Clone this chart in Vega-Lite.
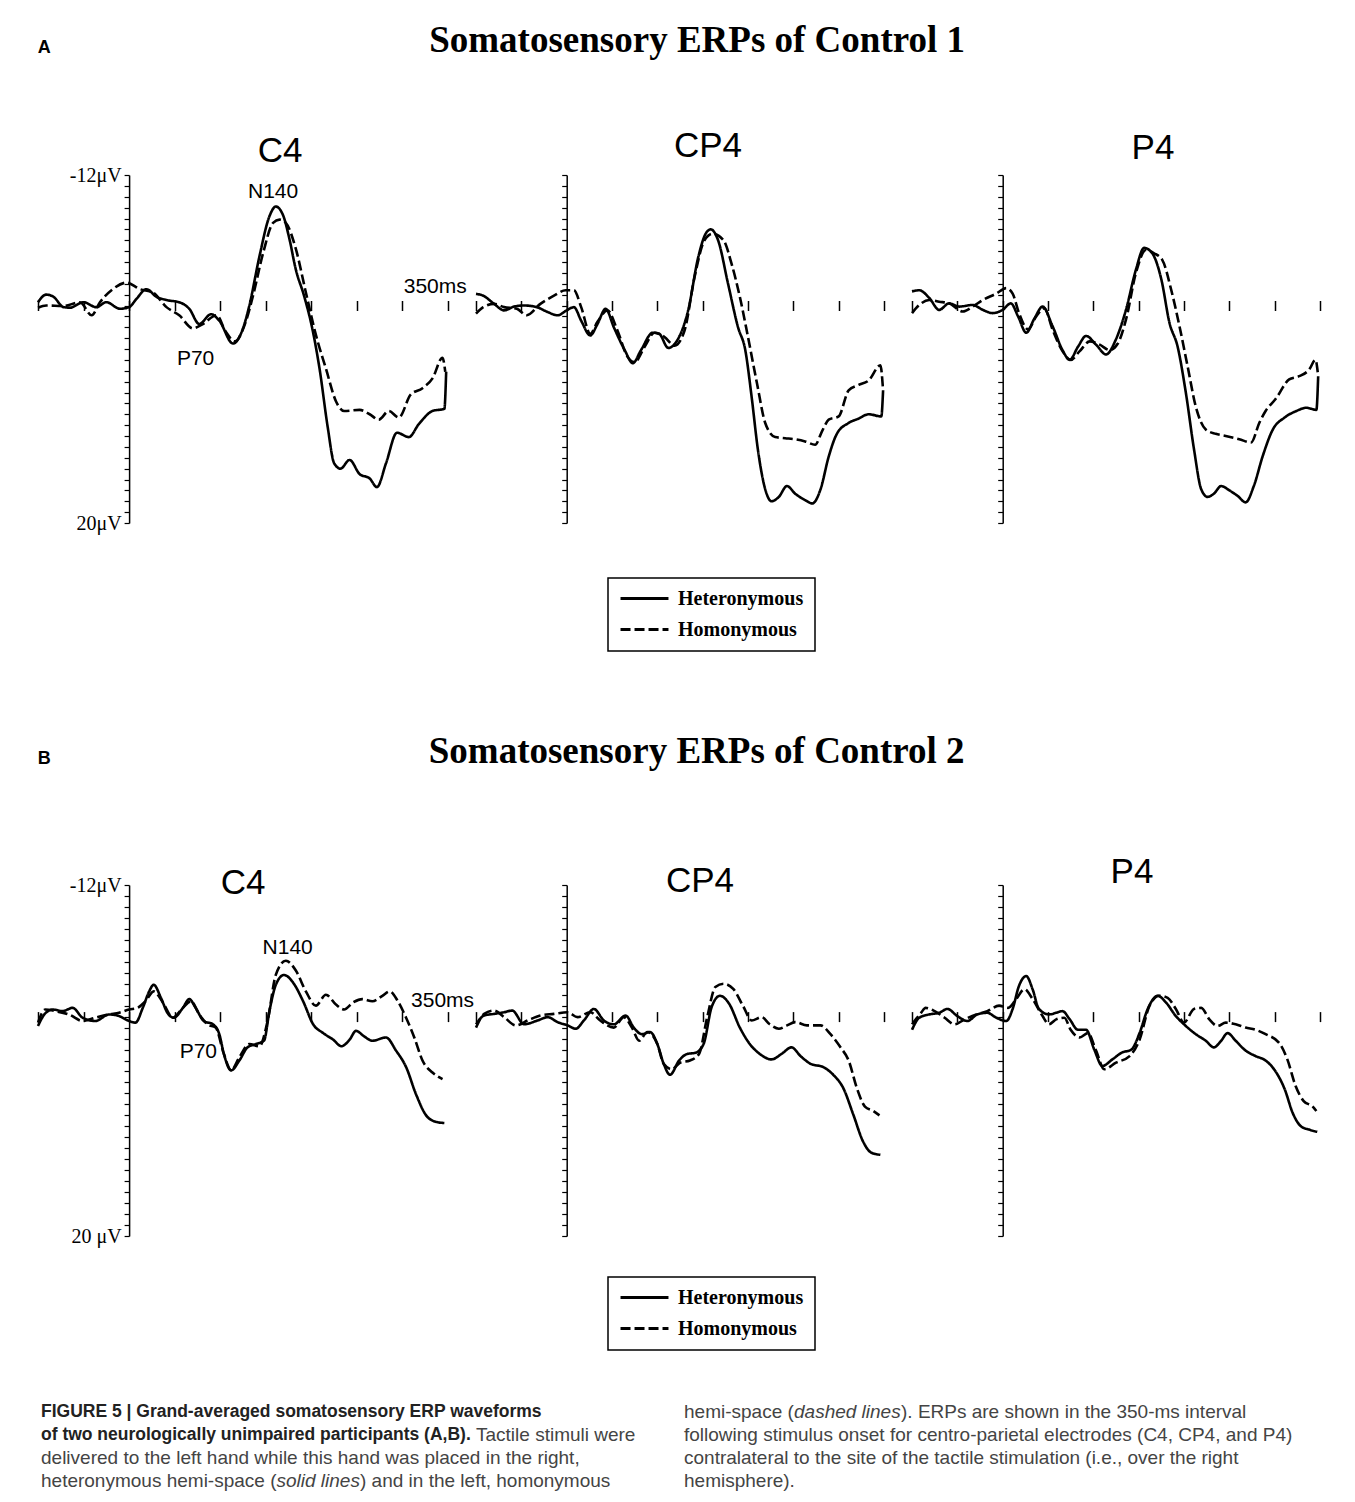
{
"$schema": "https://vega.github.io/schema/vega-lite/v6.json",
"background": "white",
"padding": {"left": 32, "top": 22, "right": 0, "bottom": 0},
"config": {
  "view": {"stroke": null},
  "font": "Liberation Sans",
  "title": {"font": "Liberation Sans", "fontSize": 35, "fontWeight": "normal", "color": "black", "anchor": "middle", "frame": "group"},
  "legend": {"strokeWidth": 1.5}
},
"datasets": {
"A_C4": [
{"cond":"Heteronymous","ms":-100,"uV":-0.3},{"cond":"Heteronymous","ms":-91,"uV":-1.0},{"cond":"Heteronymous","ms":-83,"uV":-0.8},{"cond":"Heteronymous","ms":-72,"uV":0.15},{"cond":"Heteronymous","ms":-65,"uV":0.2},{"cond":"Heteronymous","ms":-50,"uV":-0.3},{"cond":"Heteronymous","ms":-36,"uV":0.15},{"cond":"Heteronymous","ms":-25,"uV":-0.3},{"cond":"Heteronymous","ms":-10,"uV":0.3},{"cond":"Heteronymous","ms":0,"uV":0.15},{"cond":"Heteronymous","ms":8,"uV":-0.6},{"cond":"Heteronymous","ms":19,"uV":-1.5},{"cond":"Heteronymous","ms":30,"uV":-0.8},{"cond":"Heteronymous","ms":41,"uV":-0.5},{"cond":"Heteronymous","ms":55,"uV":-0.3},{"cond":"Heteronymous","ms":66,"uV":0.3},{"cond":"Heteronymous","ms":77,"uV":1.7},{"cond":"Heteronymous","ms":90,"uV":0.8},{"cond":"Heteronymous","ms":99,"uV":1.4},{"cond":"Heteronymous","ms":114,"uV":3.5},{"cond":"Heteronymous","ms":125,"uV":2.1},{"cond":"Heteronymous","ms":132,"uV":0},{"cond":"Heteronymous","ms":143,"uV":-4.5},{"cond":"Heteronymous","ms":154,"uV":-8.2},{"cond":"Heteronymous","ms":161,"uV":-9.1},{"cond":"Heteronymous","ms":169,"uV":-8.3},{"cond":"Heteronymous","ms":176,"uV":-6.1},{"cond":"Heteronymous","ms":183,"uV":-3.3},{"cond":"Heteronymous","ms":192,"uV":-0.9},{"cond":"Heteronymous","ms":201,"uV":2.1},{"cond":"Heteronymous","ms":209,"uV":5.8},{"cond":"Heteronymous","ms":218,"uV":11.2},{"cond":"Heteronymous","ms":225,"uV":14.5},{"cond":"Heteronymous","ms":232,"uV":15.0},{"cond":"Heteronymous","ms":242,"uV":14.2},{"cond":"Heteronymous","ms":253,"uV":15.5},{"cond":"Heteronymous","ms":264,"uV":15.9},{"cond":"Heteronymous","ms":272,"uV":16.7},{"cond":"Heteronymous","ms":282,"uV":14.5},{"cond":"Heteronymous","ms":294,"uV":11.7},{"cond":"Heteronymous","ms":307,"uV":12.1},{"cond":"Heteronymous","ms":318,"uV":10.9},{"cond":"Heteronymous","ms":333,"uV":9.7},{"cond":"Heteronymous","ms":346,"uV":9.5},{"cond":"Heteronymous","ms":348,"uV":6.1},
{"cond":"Homonymous","ms":-100,"uV":0.2},{"cond":"Homonymous","ms":-91,"uV":0},{"cond":"Homonymous","ms":-72,"uV":0.05},{"cond":"Homonymous","ms":-54,"uV":-0.3},{"cond":"Homonymous","ms":-41,"uV":0.9},{"cond":"Homonymous","ms":-32,"uV":-0.3},{"cond":"Homonymous","ms":-18,"uV":-1.5},{"cond":"Homonymous","ms":-3,"uV":-2.1},{"cond":"Homonymous","ms":12,"uV":-1.5},{"cond":"Homonymous","ms":26,"uV":-1.2},{"cond":"Homonymous","ms":41,"uV":0.15},{"cond":"Homonymous","ms":55,"uV":0.9},{"cond":"Homonymous","ms":70,"uV":2.1},{"cond":"Homonymous","ms":81,"uV":1.7},{"cond":"Homonymous","ms":96,"uV":0.9},{"cond":"Homonymous","ms":106,"uV":2.4},{"cond":"Homonymous","ms":116,"uV":3.3},{"cond":"Homonymous","ms":128,"uV":1.5},{"cond":"Homonymous","ms":136,"uV":-0.9},{"cond":"Homonymous","ms":147,"uV":-4.8},{"cond":"Homonymous","ms":158,"uV":-7.6},{"cond":"Homonymous","ms":165,"uV":-7.9},{"cond":"Homonymous","ms":172,"uV":-7.6},{"cond":"Homonymous","ms":183,"uV":-5.2},{"cond":"Homonymous","ms":194,"uV":-1.2},{"cond":"Homonymous","ms":205,"uV":2.7},{"cond":"Homonymous","ms":216,"uV":5.8},{"cond":"Homonymous","ms":227,"uV":8.8},{"cond":"Homonymous","ms":236,"uV":9.7},{"cond":"Homonymous","ms":253,"uV":9.6},{"cond":"Homonymous","ms":264,"uV":10.0},{"cond":"Homonymous","ms":274,"uV":10.5},{"cond":"Homonymous","ms":285,"uV":9.7},{"cond":"Homonymous","ms":296,"uV":10.3},{"cond":"Homonymous","ms":309,"uV":8.2},{"cond":"Homonymous","ms":322,"uV":7.6},{"cond":"Homonymous","ms":333,"uV":6.7},{"cond":"Homonymous","ms":344,"uV":4.8},{"cond":"Homonymous","ms":347,"uV":6.1}
],
"A_CP4": [
{"cond":"Heteronymous","ms":-100,"uV":-1.07},{"cond":"Heteronymous","ms":-92,"uV":-0.9},{"cond":"Heteronymous","ms":-80,"uV":-0.15},{"cond":"Heteronymous","ms":-69,"uV":0.45},{"cond":"Heteronymous","ms":-58,"uV":0.1},{"cond":"Heteronymous","ms":-47,"uV":0},{"cond":"Heteronymous","ms":-33,"uV":0.15},{"cond":"Heteronymous","ms":-21,"uV":0.6},{"cond":"Heteronymous","ms":-10,"uV":0.9},{"cond":"Heteronymous","ms":0,"uV":0.45},{"cond":"Heteronymous","ms":8,"uV":0.15},{"cond":"Heteronymous","ms":16,"uV":1.4},{"cond":"Heteronymous","ms":26,"uV":2.75},{"cond":"Heteronymous","ms":34,"uV":1.7},{"cond":"Heteronymous","ms":43,"uV":0.3},{"cond":"Heteronymous","ms":52,"uV":2.0},{"cond":"Heteronymous","ms":64,"uV":4.1},{"cond":"Heteronymous","ms":73,"uV":5.3},{"cond":"Heteronymous","ms":82,"uV":4.1},{"cond":"Heteronymous","ms":95,"uV":2.5},{"cond":"Heteronymous","ms":102,"uV":2.6},{"cond":"Heteronymous","ms":112,"uV":3.9},{"cond":"Heteronymous","ms":123,"uV":3.05},{"cond":"Heteronymous","ms":134,"uV":0.45},{"cond":"Heteronymous","ms":145,"uV":-4.4},{"cond":"Heteronymous","ms":154,"uV":-6.7},{"cond":"Heteronymous","ms":159,"uV":-7.0},{"cond":"Heteronymous","ms":167,"uV":-6.0},{"cond":"Heteronymous","ms":178,"uV":-2.0},{"cond":"Heteronymous","ms":189,"uV":2.0},{"cond":"Heteronymous","ms":197,"uV":4.1},{"cond":"Heteronymous","ms":204,"uV":8.4},{"cond":"Heteronymous","ms":211,"uV":13.3},{"cond":"Heteronymous","ms":219,"uV":16.9},{"cond":"Heteronymous","ms":226,"uV":18.0},{"cond":"Heteronymous","ms":234,"uV":17.6},{"cond":"Heteronymous","ms":243,"uV":16.6},{"cond":"Heteronymous","ms":252,"uV":17.3},{"cond":"Heteronymous","ms":263,"uV":17.9},{"cond":"Heteronymous","ms":271,"uV":18.2},{"cond":"Heteronymous","ms":280,"uV":16.9},{"cond":"Heteronymous","ms":289,"uV":13.9},{"cond":"Heteronymous","ms":298,"uV":11.8},{"cond":"Heteronymous","ms":311,"uV":10.8},{"cond":"Heteronymous","ms":322,"uV":10.4},{"cond":"Heteronymous","ms":333,"uV":10.0},{"cond":"Heteronymous","ms":347,"uV":10.2},{"cond":"Heteronymous","ms":349,"uV":7.8},
{"cond":"Homonymous","ms":-100,"uV":0.75},{"cond":"Homonymous","ms":-92,"uV":0.15},{"cond":"Homonymous","ms":-80,"uV":-0.15},{"cond":"Homonymous","ms":-69,"uV":0.15},{"cond":"Homonymous","ms":-55,"uV":0.3},{"cond":"Homonymous","ms":-44,"uV":0.9},{"cond":"Homonymous","ms":-29,"uV":-0.15},{"cond":"Homonymous","ms":-14,"uV":-0.9},{"cond":"Homonymous","ms":-1,"uV":-1.4},{"cond":"Homonymous","ms":8,"uV":-1.4},{"cond":"Homonymous","ms":16,"uV":0.15},{"cond":"Homonymous","ms":26,"uV":2.6},{"cond":"Homonymous","ms":34,"uV":1.5},{"cond":"Homonymous","ms":45,"uV":0.45},{"cond":"Homonymous","ms":56,"uV":2.3},{"cond":"Homonymous","ms":67,"uV":4.7},{"cond":"Homonymous","ms":75,"uV":5.2},{"cond":"Homonymous","ms":86,"uV":3.8},{"cond":"Homonymous","ms":97,"uV":2.5},{"cond":"Homonymous","ms":108,"uV":2.9},{"cond":"Homonymous","ms":119,"uV":3.7},{"cond":"Homonymous","ms":130,"uV":2.3},{"cond":"Homonymous","ms":141,"uV":-2.6},{"cond":"Homonymous","ms":152,"uV":-6.0},{"cond":"Homonymous","ms":161,"uV":-6.6},{"cond":"Homonymous","ms":173,"uV":-6.0},{"cond":"Homonymous","ms":182,"uV":-3.8},{"cond":"Homonymous","ms":191,"uV":-0.8},{"cond":"Homonymous","ms":200,"uV":2.9},{"cond":"Homonymous","ms":210,"uV":7.2},{"cond":"Homonymous","ms":219,"uV":10.8},{"cond":"Homonymous","ms":230,"uV":12.1},{"cond":"Homonymous","ms":241,"uV":12.2},{"cond":"Homonymous","ms":252,"uV":12.3},{"cond":"Homonymous","ms":263,"uV":12.5},{"cond":"Homonymous","ms":274,"uV":12.8},{"cond":"Homonymous","ms":282,"uV":11.5},{"cond":"Homonymous","ms":289,"uV":10.5},{"cond":"Homonymous","ms":300,"uV":10.2},{"cond":"Homonymous","ms":311,"uV":7.8},{"cond":"Homonymous","ms":322,"uV":7.3},{"cond":"Homonymous","ms":333,"uV":6.9},{"cond":"Homonymous","ms":346,"uV":5.5},{"cond":"Homonymous","ms":349,"uV":7.8}
],
"A_P4": [
{"cond":"Heteronymous","ms":-100,"uV":-1.3},{"cond":"Heteronymous","ms":-92,"uV":-1.4},{"cond":"Heteronymous","ms":-81,"uV":-0.7},{"cond":"Heteronymous","ms":-70,"uV":0.4},{"cond":"Heteronymous","ms":-59,"uV":-0.2},{"cond":"Heteronymous","ms":-48,"uV":0.1},{"cond":"Heteronymous","ms":-33,"uV":-0.05},{"cond":"Heteronymous","ms":-22,"uV":0.4},{"cond":"Heteronymous","ms":-11,"uV":0.7},{"cond":"Heteronymous","ms":0,"uV":0.4},{"cond":"Heteronymous","ms":9,"uV":-0.2},{"cond":"Heteronymous","ms":17,"uV":1.0},{"cond":"Heteronymous","ms":26,"uV":2.5},{"cond":"Heteronymous","ms":35,"uV":1.2},{"cond":"Heteronymous","ms":44,"uV":0.1},{"cond":"Heteronymous","ms":55,"uV":1.9},{"cond":"Heteronymous","ms":66,"uV":4.1},{"cond":"Heteronymous","ms":74,"uV":5.0},{"cond":"Heteronymous","ms":83,"uV":3.8},{"cond":"Heteronymous","ms":92,"uV":2.8},{"cond":"Heteronymous","ms":103,"uV":3.6},{"cond":"Heteronymous","ms":114,"uV":4.5},{"cond":"Heteronymous","ms":125,"uV":3.1},{"cond":"Heteronymous","ms":136,"uV":0.4},{"cond":"Heteronymous","ms":147,"uV":-3.3},{"cond":"Heteronymous","ms":156,"uV":-5.3},{"cond":"Heteronymous","ms":165,"uV":-4.8},{"cond":"Heteronymous","ms":175,"uV":-2.4},{"cond":"Heteronymous","ms":184,"uV":1.6},{"cond":"Heteronymous","ms":193,"uV":3.8},{"cond":"Heteronymous","ms":202,"uV":8.0},{"cond":"Heteronymous","ms":211,"uV":13.2},{"cond":"Heteronymous","ms":219,"uV":16.9},{"cond":"Heteronymous","ms":226,"uV":17.6},{"cond":"Heteronymous","ms":233,"uV":17.3},{"cond":"Heteronymous","ms":241,"uV":16.6},{"cond":"Heteronymous","ms":250,"uV":17.0},{"cond":"Heteronymous","ms":259,"uV":17.5},{"cond":"Heteronymous","ms":268,"uV":18.1},{"cond":"Heteronymous","ms":277,"uV":16.6},{"cond":"Heteronymous","ms":287,"uV":13.8},{"cond":"Heteronymous","ms":298,"uV":11.4},{"cond":"Heteronymous","ms":311,"uV":10.3},{"cond":"Heteronymous","ms":324,"uV":9.7},{"cond":"Heteronymous","ms":335,"uV":9.4},{"cond":"Heteronymous","ms":346,"uV":9.6},{"cond":"Heteronymous","ms":348,"uV":6.5},
{"cond":"Homonymous","ms":-100,"uV":0.7},{"cond":"Homonymous","ms":-92,"uV":-0.05},{"cond":"Homonymous","ms":-81,"uV":-0.5},{"cond":"Homonymous","ms":-70,"uV":-0.35},{"cond":"Homonymous","ms":-59,"uV":-0.2},{"cond":"Homonymous","ms":-44,"uV":0.55},{"cond":"Homonymous","ms":-33,"uV":0.1},{"cond":"Homonymous","ms":-22,"uV":-0.5},{"cond":"Homonymous","ms":-7,"uV":-1.1},{"cond":"Homonymous","ms":4,"uV":-1.6},{"cond":"Homonymous","ms":11,"uV":-1.1},{"cond":"Homonymous","ms":18,"uV":0.7},{"cond":"Homonymous","ms":28,"uV":2.2},{"cond":"Homonymous","ms":37,"uV":1.0},{"cond":"Homonymous","ms":46,"uV":0.25},{"cond":"Homonymous","ms":55,"uV":2.2},{"cond":"Homonymous","ms":66,"uV":4.2},{"cond":"Homonymous","ms":75,"uV":5.0},{"cond":"Homonymous","ms":85,"uV":4.2},{"cond":"Homonymous","ms":96,"uV":3.3},{"cond":"Homonymous","ms":107,"uV":3.6},{"cond":"Homonymous","ms":118,"uV":4.1},{"cond":"Homonymous","ms":127,"uV":3.5},{"cond":"Homonymous","ms":136,"uV":1.3},{"cond":"Homonymous","ms":147,"uV":-3.0},{"cond":"Homonymous","ms":158,"uV":-5.1},{"cond":"Homonymous","ms":167,"uV":-4.8},{"cond":"Homonymous","ms":176,"uV":-4.2},{"cond":"Homonymous","ms":186,"uV":-1.4},{"cond":"Homonymous","ms":195,"uV":1.9},{"cond":"Homonymous","ms":204,"uV":5.6},{"cond":"Homonymous","ms":213,"uV":9.3},{"cond":"Homonymous","ms":224,"uV":11.4},{"cond":"Homonymous","ms":235,"uV":11.8},{"cond":"Homonymous","ms":246,"uV":12.0},{"cond":"Homonymous","ms":261,"uV":12.3},{"cond":"Homonymous","ms":274,"uV":12.6},{"cond":"Homonymous","ms":283,"uV":10.8},{"cond":"Homonymous","ms":290,"uV":9.7},{"cond":"Homonymous","ms":301,"uV":8.6},{"cond":"Homonymous","ms":316,"uV":6.8},{"cond":"Homonymous","ms":327,"uV":6.5},{"cond":"Homonymous","ms":338,"uV":5.9},{"cond":"Homonymous","ms":345,"uV":5.0},{"cond":"Homonymous","ms":348,"uV":6.5}
],
"B_C4": [
{"cond":"Heteronymous","ms":-100,"uV":0.85},{"cond":"Heteronymous","ms":-93,"uV":-0.2},{"cond":"Heteronymous","ms":-84,"uV":-0.65},{"cond":"Heteronymous","ms":-73,"uV":-0.5},{"cond":"Heteronymous","ms":-62,"uV":-0.8},{"cond":"Heteronymous","ms":-51,"uV":0.1},{"cond":"Heteronymous","ms":-37,"uV":0.4},{"cond":"Heteronymous","ms":-22,"uV":-0.2},{"cond":"Heteronymous","ms":-11,"uV":-0.05},{"cond":"Heteronymous","ms":0,"uV":0.4},{"cond":"Heteronymous","ms":7,"uV":0.55},{"cond":"Heteronymous","ms":15,"uV":-0.8},{"cond":"Heteronymous","ms":22,"uV":-2.3},{"cond":"Heteronymous","ms":27,"uV":-2.9},{"cond":"Heteronymous","ms":35,"uV":-1.7},{"cond":"Heteronymous","ms":42,"uV":-0.35},{"cond":"Heteronymous","ms":49,"uV":0.1},{"cond":"Heteronymous","ms":59,"uV":-0.8},{"cond":"Heteronymous","ms":66,"uV":-1.6},{"cond":"Heteronymous","ms":73,"uV":-0.8},{"cond":"Heteronymous","ms":82,"uV":0.4},{"cond":"Heteronymous","ms":92,"uV":0.7},{"cond":"Heteronymous","ms":99,"uV":1.6},{"cond":"Heteronymous","ms":104,"uV":3.4},{"cond":"Heteronymous","ms":112,"uV":4.9},{"cond":"Heteronymous","ms":121,"uV":4.0},{"cond":"Heteronymous","ms":130,"uV":2.8},{"cond":"Heteronymous","ms":139,"uV":2.5},{"cond":"Heteronymous","ms":148,"uV":2.2},{"cond":"Heteronymous","ms":154,"uV":-0.5},{"cond":"Heteronymous","ms":161,"uV":-2.9},{"cond":"Heteronymous","ms":170,"uV":-3.8},{"cond":"Heteronymous","ms":180,"uV":-3.1},{"cond":"Heteronymous","ms":191,"uV":-1.4},{"cond":"Heteronymous","ms":202,"uV":0.7},{"cond":"Heteronymous","ms":213,"uV":1.5},{"cond":"Heteronymous","ms":224,"uV":2.1},{"cond":"Heteronymous","ms":233,"uV":2.7},{"cond":"Heteronymous","ms":242,"uV":2.1},{"cond":"Heteronymous","ms":249,"uV":1.3},{"cond":"Heteronymous","ms":258,"uV":1.8},{"cond":"Heteronymous","ms":267,"uV":2.2},{"cond":"Heteronymous","ms":282,"uV":1.9},{"cond":"Heteronymous","ms":293,"uV":3.1},{"cond":"Heteronymous","ms":304,"uV":4.6},{"cond":"Heteronymous","ms":315,"uV":7.1},{"cond":"Heteronymous","ms":326,"uV":9.0},{"cond":"Heteronymous","ms":337,"uV":9.6},{"cond":"Heteronymous","ms":346,"uV":9.7},
{"cond":"Homonymous","ms":-100,"uV":0.55},{"cond":"Homonymous","ms":-92,"uV":-0.65},{"cond":"Homonymous","ms":-81,"uV":-0.5},{"cond":"Homonymous","ms":-66,"uV":-0.2},{"cond":"Homonymous","ms":-51,"uV":0.4},{"cond":"Homonymous","ms":-37,"uV":0.1},{"cond":"Homonymous","ms":-22,"uV":-0.2},{"cond":"Homonymous","ms":-11,"uV":-0.35},{"cond":"Homonymous","ms":0,"uV":-0.65},{"cond":"Homonymous","ms":9,"uV":-0.8},{"cond":"Homonymous","ms":18,"uV":-1.4},{"cond":"Homonymous","ms":27,"uV":-2.3},{"cond":"Homonymous","ms":37,"uV":-1.3},{"cond":"Homonymous","ms":48,"uV":0.1},{"cond":"Homonymous","ms":59,"uV":-0.8},{"cond":"Homonymous","ms":68,"uV":-1.4},{"cond":"Homonymous","ms":77,"uV":-0.2},{"cond":"Homonymous","ms":86,"uV":0.7},{"cond":"Homonymous","ms":95,"uV":1.0},{"cond":"Homonymous","ms":104,"uV":3.4},{"cond":"Homonymous","ms":112,"uV":4.9},{"cond":"Homonymous","ms":121,"uV":3.7},{"cond":"Homonymous","ms":132,"uV":2.5},{"cond":"Homonymous","ms":143,"uV":2.7},{"cond":"Homonymous","ms":152,"uV":0.4},{"cond":"Homonymous","ms":161,"uV":-3.8},{"cond":"Homonymous","ms":172,"uV":-5.1},{"cond":"Homonymous","ms":183,"uV":-4.2},{"cond":"Homonymous","ms":194,"uV":-2.3},{"cond":"Homonymous","ms":205,"uV":-1.0},{"cond":"Homonymous","ms":216,"uV":-2.0},{"cond":"Homonymous","ms":227,"uV":-1.1},{"cond":"Homonymous","ms":236,"uV":-0.65},{"cond":"Homonymous","ms":246,"uV":-1.3},{"cond":"Homonymous","ms":256,"uV":-1.6},{"cond":"Homonymous","ms":267,"uV":-1.4},{"cond":"Homonymous","ms":278,"uV":-1.9},{"cond":"Homonymous","ms":286,"uV":-2.3},{"cond":"Homonymous","ms":295,"uV":-1.4},{"cond":"Homonymous","ms":304,"uV":0.1},{"cond":"Homonymous","ms":313,"uV":1.9},{"cond":"Homonymous","ms":322,"uV":4.0},{"cond":"Homonymous","ms":333,"uV":5.1},{"cond":"Homonymous","ms":344,"uV":5.7}
],
"B_CP4": [
{"cond":"Heteronymous","ms":-100,"uV":0.7},{"cond":"Heteronymous","ms":-91,"uV":-0.1},{"cond":"Heteronymous","ms":-80,"uV":-0.25},{"cond":"Heteronymous","ms":-69,"uV":-0.4},{"cond":"Heteronymous","ms":-60,"uV":-0.55},{"cond":"Heteronymous","ms":-47,"uV":0.7},{"cond":"Heteronymous","ms":-32,"uV":0.35},{"cond":"Heteronymous","ms":-21,"uV":0.05},{"cond":"Heteronymous","ms":-10,"uV":0.5},{"cond":"Heteronymous","ms":1,"uV":0.8},{"cond":"Heteronymous","ms":10,"uV":1.1},{"cond":"Heteronymous","ms":19,"uV":0.35},{"cond":"Heteronymous","ms":30,"uV":-0.7},{"cond":"Heteronymous","ms":41,"uV":0.35},{"cond":"Heteronymous","ms":52,"uV":0.7},{"cond":"Heteronymous","ms":65,"uV":-0.1},{"cond":"Heteronymous","ms":74,"uV":1.0},{"cond":"Heteronymous","ms":83,"uV":1.6},{"cond":"Heteronymous","ms":92,"uV":1.4},{"cond":"Heteronymous","ms":100,"uV":2.5},{"cond":"Heteronymous","ms":107,"uV":4.3},{"cond":"Heteronymous","ms":114,"uV":5.3},{"cond":"Heteronymous","ms":124,"uV":4.0},{"cond":"Heteronymous","ms":133,"uV":3.4},{"cond":"Heteronymous","ms":142,"uV":3.3},{"cond":"Heteronymous","ms":151,"uV":2.5},{"cond":"Heteronymous","ms":160,"uV":-0.9},{"cond":"Heteronymous","ms":169,"uV":-1.9},{"cond":"Heteronymous","ms":179,"uV":-1.2},{"cond":"Heteronymous","ms":191,"uV":1.0},{"cond":"Heteronymous","ms":202,"uV":2.5},{"cond":"Heteronymous","ms":213,"uV":3.4},{"cond":"Heteronymous","ms":226,"uV":3.9},{"cond":"Heteronymous","ms":237,"uV":3.4},{"cond":"Heteronymous","ms":248,"uV":2.8},{"cond":"Heteronymous","ms":258,"uV":3.6},{"cond":"Heteronymous","ms":269,"uV":4.3},{"cond":"Heteronymous","ms":283,"uV":4.6},{"cond":"Heteronymous","ms":294,"uV":5.3},{"cond":"Heteronymous","ms":305,"uV":6.5},{"cond":"Heteronymous","ms":316,"uV":8.9},{"cond":"Heteronymous","ms":327,"uV":11.4},{"cond":"Heteronymous","ms":336,"uV":12.4},{"cond":"Heteronymous","ms":346,"uV":12.6},
{"cond":"Homonymous","ms":-100,"uV":1.0},{"cond":"Homonymous","ms":-91,"uV":-0.25},{"cond":"Homonymous","ms":-80,"uV":-0.55},{"cond":"Homonymous","ms":-69,"uV":0.05},{"cond":"Homonymous","ms":-56,"uV":0.8},{"cond":"Homonymous","ms":-43,"uV":0.35},{"cond":"Homonymous","ms":-29,"uV":-0.1},{"cond":"Homonymous","ms":-14,"uV":-0.25},{"cond":"Homonymous","ms":1,"uV":-0.4},{"cond":"Homonymous","ms":12,"uV":0.05},{"cond":"Homonymous","ms":26,"uV":-0.4},{"cond":"Homonymous","ms":37,"uV":0.35},{"cond":"Homonymous","ms":52,"uV":1.0},{"cond":"Homonymous","ms":63,"uV":0.05},{"cond":"Homonymous","ms":72,"uV":1.0},{"cond":"Homonymous","ms":80,"uV":2.2},{"cond":"Homonymous","ms":89,"uV":1.4},{"cond":"Homonymous","ms":100,"uV":2.5},{"cond":"Homonymous","ms":107,"uV":4.3},{"cond":"Homonymous","ms":116,"uV":4.8},{"cond":"Homonymous","ms":125,"uV":4.2},{"cond":"Homonymous","ms":136,"uV":4.0},{"cond":"Homonymous","ms":146,"uV":3.4},{"cond":"Homonymous","ms":155,"uV":0.05},{"cond":"Homonymous","ms":164,"uV":-2.7},{"cond":"Homonymous","ms":173,"uV":-3.0},{"cond":"Homonymous","ms":184,"uV":-2.5},{"cond":"Homonymous","ms":195,"uV":-0.9},{"cond":"Homonymous","ms":204,"uV":0.35},{"cond":"Homonymous","ms":215,"uV":0.05},{"cond":"Homonymous","ms":224,"uV":0.7},{"cond":"Homonymous","ms":234,"uV":1.1},{"cond":"Homonymous","ms":243,"uV":0.8},{"cond":"Homonymous","ms":252,"uV":0.5},{"cond":"Homonymous","ms":265,"uV":0.8},{"cond":"Homonymous","ms":280,"uV":0.8},{"cond":"Homonymous","ms":291,"uV":1.6},{"cond":"Homonymous","ms":302,"uV":2.8},{"cond":"Homonymous","ms":311,"uV":4.0},{"cond":"Homonymous","ms":320,"uV":6.5},{"cond":"Homonymous","ms":329,"uV":8.2},{"cond":"Homonymous","ms":338,"uV":8.6},{"cond":"Homonymous","ms":345,"uV":9.0}
],
"B_P4": [
{"cond":"Heteronymous","ms":-100,"uV":1.2},{"cond":"Heteronymous","ms":-92,"uV":0.1},{"cond":"Heteronymous","ms":-81,"uV":-0.2},{"cond":"Heteronymous","ms":-70,"uV":-0.35},{"cond":"Heteronymous","ms":-61,"uV":-0.7},{"cond":"Heteronymous","ms":-50,"uV":-0.05},{"cond":"Heteronymous","ms":-39,"uV":0.4},{"cond":"Heteronymous","ms":-28,"uV":-0.2},{"cond":"Heteronymous","ms":-17,"uV":-0.35},{"cond":"Heteronymous","ms":-7,"uV":0.1},{"cond":"Heteronymous","ms":4,"uV":0.4},{"cond":"Heteronymous","ms":11,"uV":-0.7},{"cond":"Heteronymous","ms":18,"uV":-2.8},{"cond":"Heteronymous","ms":26,"uV":-3.7},{"cond":"Heteronymous","ms":33,"uV":-2.5},{"cond":"Heteronymous","ms":40,"uV":-0.7},{"cond":"Heteronymous","ms":51,"uV":-0.2},{"cond":"Heteronymous","ms":59,"uV":-0.35},{"cond":"Heteronymous","ms":66,"uV":-0.5},{"cond":"Heteronymous","ms":74,"uV":0.25},{"cond":"Heteronymous","ms":83,"uV":1.2},{"cond":"Heteronymous","ms":92,"uV":1.2},{"cond":"Heteronymous","ms":101,"uV":3.0},{"cond":"Heteronymous","ms":110,"uV":4.5},{"cond":"Heteronymous","ms":121,"uV":3.9},{"cond":"Heteronymous","ms":131,"uV":3.3},{"cond":"Heteronymous","ms":142,"uV":3.0},{"cond":"Heteronymous","ms":151,"uV":1.5},{"cond":"Heteronymous","ms":160,"uV":-0.7},{"cond":"Heteronymous","ms":171,"uV":-1.9},{"cond":"Heteronymous","ms":180,"uV":-1.3},{"cond":"Heteronymous","ms":191,"uV":-0.05},{"cond":"Heteronymous","ms":202,"uV":0.85},{"cond":"Heteronymous","ms":213,"uV":1.6},{"cond":"Heteronymous","ms":224,"uV":2.2},{"cond":"Heteronymous","ms":233,"uV":2.8},{"cond":"Heteronymous","ms":241,"uV":2.2},{"cond":"Heteronymous","ms":248,"uV":1.5},{"cond":"Heteronymous","ms":257,"uV":2.2},{"cond":"Heteronymous","ms":268,"uV":3.1},{"cond":"Heteronymous","ms":279,"uV":3.6},{"cond":"Heteronymous","ms":290,"uV":4.0},{"cond":"Heteronymous","ms":301,"uV":5.0},{"cond":"Heteronymous","ms":311,"uV":6.6},{"cond":"Heteronymous","ms":320,"uV":8.8},{"cond":"Heteronymous","ms":329,"uV":10.0},{"cond":"Heteronymous","ms":338,"uV":10.3},{"cond":"Heteronymous","ms":347,"uV":10.5},
{"cond":"Homonymous","ms":-100,"uV":0.7},{"cond":"Homonymous","ms":-90,"uV":-0.35},{"cond":"Homonymous","ms":-85,"uV":-0.8},{"cond":"Homonymous","ms":-75,"uV":-0.5},{"cond":"Homonymous","ms":-64,"uV":0.1},{"cond":"Homonymous","ms":-53,"uV":0.7},{"cond":"Homonymous","ms":-42,"uV":0.25},{"cond":"Homonymous","ms":-29,"uV":-0.2},{"cond":"Homonymous","ms":-17,"uV":-0.5},{"cond":"Homonymous","ms":-4,"uV":-1.0},{"cond":"Homonymous","ms":6,"uV":-0.8},{"cond":"Homonymous","ms":15,"uV":-1.6},{"cond":"Homonymous","ms":24,"uV":-2.5},{"cond":"Homonymous","ms":33,"uV":-1.6},{"cond":"Homonymous","ms":44,"uV":-0.05},{"cond":"Homonymous","ms":51,"uV":0.7},{"cond":"Homonymous","ms":59,"uV":0.25},{"cond":"Homonymous","ms":68,"uV":0.1},{"cond":"Homonymous","ms":75,"uV":1.2},{"cond":"Homonymous","ms":85,"uV":1.9},{"cond":"Homonymous","ms":94,"uV":1.5},{"cond":"Homonymous","ms":103,"uV":3.1},{"cond":"Homonymous","ms":112,"uV":4.8},{"cond":"Homonymous","ms":125,"uV":4.2},{"cond":"Homonymous","ms":140,"uV":3.6},{"cond":"Homonymous","ms":151,"uV":2.1},{"cond":"Homonymous","ms":162,"uV":-1.0},{"cond":"Homonymous","ms":173,"uV":-1.9},{"cond":"Homonymous","ms":182,"uV":-1.7},{"cond":"Homonymous","ms":191,"uV":-0.7},{"cond":"Homonymous","ms":200,"uV":0.55},{"cond":"Homonymous","ms":211,"uV":-0.7},{"cond":"Homonymous","ms":219,"uV":-0.8},{"cond":"Homonymous","ms":228,"uV":0.25},{"cond":"Homonymous","ms":237,"uV":0.85},{"cond":"Homonymous","ms":246,"uV":0.55},{"cond":"Homonymous","ms":257,"uV":0.7},{"cond":"Homonymous","ms":268,"uV":1.0},{"cond":"Homonymous","ms":279,"uV":1.2},{"cond":"Homonymous","ms":290,"uV":1.6},{"cond":"Homonymous","ms":305,"uV":2.4},{"cond":"Homonymous","ms":314,"uV":3.9},{"cond":"Homonymous","ms":323,"uV":6.3},{"cond":"Homonymous","ms":332,"uV":7.7},{"cond":"Homonymous","ms":342,"uV":8.2},{"cond":"Homonymous","ms":346,"uV":8.6}
],
"notes": [
{"panel":"A","label":"N140","ms":158,"uV":-10.4},{"panel":"A","label":"P70","ms":73,"uV":4.9},{"panel":"A","label":"350ms","ms":336,"uV":-1.7},
{"panel":"B","label":"N140","ms":174,"uV":-6.3},{"panel":"B","label":"P70","ms":76,"uV":3.2},{"panel":"B","label":"350ms","ms":344,"uV":-1.4}
],
"caption": [
{"col":"left","line":1,"seg":"bold","text":"FIGURE 5 | Grand-averaged somatosensory ERP waveforms"},
{"col":"left","line":2,"seg":"bold","text":"of two neurologically unimpaired participants (A,B)."},
{"col":"left","line":2,"seg":"L2tail","text":"Tactile stimuli were"},
{"col":"left","line":3,"seg":"regular","text":"delivered to the left hand while this hand was placed in the right,"},
{"col":"left","line":4,"seg":"regular","text":"heteronymous hemi-space ("},
{"col":"left","line":4,"seg":"L4italic","text":"solid lines"},
{"col":"left","line":4,"seg":"L4tail","text":") and in the left, homonymous"},
{"col":"right","line":1,"seg":"regular","text":"hemi-space ("},
{"col":"right","line":1,"seg":"R1italic","text":"dashed lines"},
{"col":"right","line":1,"seg":"R1tail","text":"). ERPs are shown in the 350-ms interval"},
{"col":"right","line":2,"seg":"regular","text":"following stimulus onset for centro-parietal electrodes (C4, CP4, and P4)"},
{"col":"right","line":3,"seg":"regular","text":"contralateral to the site of the tactile stimulation (i.e., over the right"},
{"col":"right","line":4,"seg":"regular","text":"hemisphere)."}
]
},
"spacing": 81,
"vconcat": [
{
  "title": {"text": "A", "anchor": "start", "frame": "bounds", "font": "Liberation Sans", "fontSize": 18, "fontWeight": "bold", "offset": -35, "dx": 5},
  "vconcat": [
  {
    "title": {"text": "Somatosensory ERPs of Control 1", "anchor": "middle", "frame": "bounds", "font": "Liberation Serif", "fontSize": 37, "fontWeight": "bold", "dx": 19, "offset": 69},
    "bounds": "flush",
    "spacing": 28,
    "resolve": {"scale": {"strokeDash": "independent"}, "legend": {"strokeDash": "independent"}},
    "hconcat": [
    {
      "width": 410, "height": 348,
      "title": {"text": "C4", "dx": 37, "offset": -4},
      "layer": [
        {"mark": {"type": "rule", "color": "black", "strokeWidth": 1.5}, "encoding": {"y": {"datum": 0, "type": "quantitative", "scale": {"domain": [-12, 20], "nice": false, "zero": false, "reverse": true}}}},
        {"data": {"name": "A_C4"}, "mark": {"type": "line", "interpolate": "monotone", "color": "black", "strokeWidth": 2.6},
         "encoding": {
          "x": {"field": "ms", "type": "quantitative", "scale": {"domain": [-100, 350], "nice": false, "zero": false}, "axis": {"orient": "bottom", "offset": -222.5, "domain": false, "ticks": true, "tickSize": 10, "tickWidth": 1.5, "tickColor": "black", "labels": false, "grid": false, "title": null, "tickCount": 20, "values": [-100,-50,0,50,100,150,200,250,300,350]}},
          "y": {"field": "uV", "type": "quantitative", "scale": {"domain": [-12, 20], "nice": false, "zero": false, "reverse": true}, "axis": {"orient": "left", "offset": -91.1, "domain": true, "domainColor": "black", "domainWidth": 1.5, "ticks": true, "tickSize": 5, "tickWidth": 1.2, "tickColor": "black", "grid": false, "title": null, "tickCount": 40, "values": [-12,-11,-10,-9,-8,-7,-6,-5,-4,-3,-2,-1,0,1,2,3,4,5,6,7,8,9,10,11,12,13,14,15,16,17,18,19,20], "labelExpr": "datum.value == -12 ? '-12μV' : (datum.value == 20 ? '20μV' : '')", "labelFont": "Liberation Serif", "labelFontSize": 20, "labelColor": "black", "labelPadding": 3, "labelFlush": false, "labelOverlap": false}},
          "strokeDash": {"field": "cond", "type": "nominal", "scale": {"domain": ["Heteronymous", "Homonymous"], "range": [[1, 0], [10, 4]]}, "legend": null}
         }},
        {"data": {"name": "notes"}, "transform": [{"filter": "datum.panel == 'A'"}], "mark": {"type": "text", "font": "Liberation Sans", "fontSize": 21, "color": "black", "align": "center", "baseline": "middle"},
         "encoding": {"x": {"field": "ms", "type": "quantitative", "axis": {"title": null}}, "y": {"field": "uV", "type": "quantitative", "axis": {"title": null}}, "text": {"field": "label"}}}
      ]
    },
    {
      "width": 408, "height": 348,
      "title": {"text": "CP4", "dx": 28, "offset": 10},
      "layer": [
        {"mark": {"type": "rule", "color": "black", "strokeWidth": 1.5}, "encoding": {"y": {"datum": 0, "type": "quantitative", "scale": {"domain": [-12, 20], "nice": false, "zero": false, "reverse": true}}}},
        {"data": {"name": "A_CP4"}, "mark": {"type": "line", "interpolate": "monotone", "color": "black", "strokeWidth": 2.6},
         "encoding": {
          "x": {"field": "ms", "type": "quantitative", "scale": {"domain": [-100, 350], "nice": false, "zero": false}, "axis": {"orient": "bottom", "offset": -222.5, "domain": false, "ticks": true, "tickSize": 10, "tickWidth": 1.5, "tickColor": "black", "labels": false, "grid": false, "title": null, "tickCount": 20, "values": [-100,-50,0,50,100,150,200,250,300,350]}},
          "y": {"field": "uV", "type": "quantitative", "scale": {"domain": [-12, 20], "nice": false, "zero": false, "reverse": true}, "axis": {"orient": "left", "offset": -90.7, "domain": true, "domainColor": "black", "domainWidth": 1.5, "ticks": true, "tickSize": 5, "tickWidth": 1.2, "tickColor": "black", "grid": false, "title": null, "tickCount": 40, "values": [-12,-11,-10,-9,-8,-7,-6,-5,-4,-3,-2,-1,0,1,2,3,4,5,6,7,8,9,10,11,12,13,14,15,16,17,18,19,20], "labels": false}},
          "strokeDash": {"field": "cond", "type": "nominal", "scale": {"domain": ["Heteronymous", "Homonymous"], "range": [[1, 0], [10, 4]]}, "legend": {"orient": "none", "legendX": 132, "legendY": 403, "title": null, "symbolType": "stroke", "symbolSize": 2300, "symbolStrokeWidth": 3, "symbolStrokeColor": "black", "clipHeight": 19, "rowPadding": 10, "labelFont": "Liberation Serif", "labelFontWeight": "bold", "labelFontSize": 20, "labelColor": "black", "labelOffset": 8, "padding": 11, "strokeColor": "black", "fillColor": "white"}}
         }}
      ]
    },
    {
      "width": 408, "height": 348,
      "title": {"text": "P4", "dx": 37, "offset": 8},
      "layer": [
        {"mark": {"type": "rule", "color": "black", "strokeWidth": 1.5}, "encoding": {"y": {"datum": 0, "type": "quantitative", "scale": {"domain": [-12, 20], "nice": false, "zero": false, "reverse": true}}}},
        {"data": {"name": "A_P4"}, "mark": {"type": "line", "interpolate": "monotone", "color": "black", "strokeWidth": 2.6},
         "encoding": {
          "x": {"field": "ms", "type": "quantitative", "scale": {"domain": [-100, 350], "nice": false, "zero": false}, "axis": {"orient": "bottom", "offset": -222.5, "domain": false, "ticks": true, "tickSize": 10, "tickWidth": 1.5, "tickColor": "black", "labels": false, "grid": false, "title": null, "tickCount": 20, "values": [-100,-50,0,50,100,150,200,250,300,350]}},
          "y": {"field": "uV", "type": "quantitative", "scale": {"domain": [-12, 20], "nice": false, "zero": false, "reverse": true}, "axis": {"orient": "left", "offset": -90.7, "domain": true, "domainColor": "black", "domainWidth": 1.5, "ticks": true, "tickSize": 5, "tickWidth": 1.2, "tickColor": "black", "grid": false, "title": null, "tickCount": 40, "values": [-12,-11,-10,-9,-8,-7,-6,-5,-4,-3,-2,-1,0,1,2,3,4,5,6,7,8,9,10,11,12,13,14,15,16,17,18,19,20], "labels": false}},
          "strokeDash": {"field": "cond", "type": "nominal", "scale": {"domain": ["Heteronymous", "Homonymous"], "range": [[1, 0], [10, 4]]}, "legend": null}
         }}
      ]
    }
    ]
  }
  ]
},
{
  "spacing": 49,
  "vconcat": [
  {
    "title": {"text": "B", "anchor": "start", "frame": "bounds", "font": "Liberation Sans", "fontSize": 18, "fontWeight": "bold", "offset": -35, "dx": 5},
    "vconcat": [
    {
      "title": {"text": "Somatosensory ERPs of Control 2", "anchor": "middle", "frame": "bounds", "font": "Liberation Serif", "fontSize": 37, "fontWeight": "bold", "dx": 19, "offset": 84},
      "bounds": "flush",
      "spacing": 28,
      "resolve": {"scale": {"strokeDash": "independent"}, "legend": {"strokeDash": "independent"}},
      "hconcat": [
      {
        "width": 410, "height": 351,
        "title": {"text": "C4", "dx": 0, "offset": -26},
        "layer": [
          {"mark": {"type": "rule", "color": "black", "strokeWidth": 1.5}, "encoding": {"y": {"datum": 0, "type": "quantitative", "scale": {"domain": [-12, 20], "nice": false, "zero": false, "reverse": true}}}},
          {"data": {"name": "B_C4"}, "mark": {"type": "line", "interpolate": "monotone", "color": "black", "strokeWidth": 2.6},
           "encoding": {
            "x": {"field": "ms", "type": "quantitative", "scale": {"domain": [-100, 350], "nice": false, "zero": false}, "axis": {"orient": "bottom", "offset": -224.4, "domain": false, "ticks": true, "tickSize": 10, "tickWidth": 1.5, "tickColor": "black", "labels": false, "grid": false, "title": null, "tickCount": 20, "values": [-100,-50,0,50,100,150,200,250,300,350]}},
            "y": {"field": "uV", "type": "quantitative", "scale": {"domain": [-12, 20], "nice": false, "zero": false, "reverse": true}, "axis": {"orient": "left", "offset": -91.1, "domain": true, "domainColor": "black", "domainWidth": 1.5, "ticks": true, "tickSize": 5, "tickWidth": 1.2, "tickColor": "black", "grid": false, "title": null, "tickCount": 40, "values": [-12,-11,-10,-9,-8,-7,-6,-5,-4,-3,-2,-1,0,1,2,3,4,5,6,7,8,9,10,11,12,13,14,15,16,17,18,19,20], "labelExpr": "datum.value == -12 ? '-12μV' : (datum.value == 20 ? '20 μV' : '')", "labelFont": "Liberation Serif", "labelFontSize": 20, "labelColor": "black", "labelPadding": 3, "labelFlush": false, "labelOverlap": false}},
            "strokeDash": {"field": "cond", "type": "nominal", "scale": {"domain": ["Heteronymous", "Homonymous"], "range": [[1, 0], [10, 4]]}, "legend": null}
           }},
          {"data": {"name": "notes"}, "transform": [{"filter": "datum.panel == 'B'"}], "mark": {"type": "text", "font": "Liberation Sans", "fontSize": 21, "color": "black", "align": "center", "baseline": "middle"},
           "encoding": {"x": {"field": "ms", "type": "quantitative", "axis": {"title": null}}, "y": {"field": "uV", "type": "quantitative", "axis": {"title": null}}, "text": {"field": "label"}}}
        ]
      },
      {
        "width": 408, "height": 351,
        "title": {"text": "CP4", "dx": 20, "offset": -15},
        "layer": [
          {"mark": {"type": "rule", "color": "black", "strokeWidth": 1.5}, "encoding": {"y": {"datum": 0, "type": "quantitative", "scale": {"domain": [-12, 20], "nice": false, "zero": false, "reverse": true}}}},
          {"data": {"name": "B_CP4"}, "mark": {"type": "line", "interpolate": "monotone", "color": "black", "strokeWidth": 2.6},
           "encoding": {
            "x": {"field": "ms", "type": "quantitative", "scale": {"domain": [-100, 350], "nice": false, "zero": false}, "axis": {"orient": "bottom", "offset": -224.4, "domain": false, "ticks": true, "tickSize": 10, "tickWidth": 1.5, "tickColor": "black", "labels": false, "grid": false, "title": null, "tickCount": 20, "values": [-100,-50,0,50,100,150,200,250,300,350]}},
            "y": {"field": "uV", "type": "quantitative", "scale": {"domain": [-12, 20], "nice": false, "zero": false, "reverse": true}, "axis": {"orient": "left", "offset": -90.7, "domain": true, "domainColor": "black", "domainWidth": 1.5, "ticks": true, "tickSize": 5, "tickWidth": 1.2, "tickColor": "black", "grid": false, "title": null, "tickCount": 40, "values": [-12,-11,-10,-9,-8,-7,-6,-5,-4,-3,-2,-1,0,1,2,3,4,5,6,7,8,9,10,11,12,13,14,15,16,17,18,19,20], "labels": false}},
            "strokeDash": {"field": "cond", "type": "nominal", "scale": {"domain": ["Heteronymous", "Homonymous"], "range": [[1, 0], [10, 4]]}, "legend": {"orient": "none", "legendX": 132, "legendY": 392, "title": null, "symbolType": "stroke", "symbolSize": 2300, "symbolStrokeWidth": 3, "symbolStrokeColor": "black", "clipHeight": 19, "rowPadding": 10, "labelFont": "Liberation Serif", "labelFontWeight": "bold", "labelFontSize": 20, "labelColor": "black", "labelOffset": 8, "padding": 11, "strokeColor": "black", "fillColor": "white"}}
           }}
        ]
      },
      {
        "width": 408, "height": 351,
        "title": {"text": "P4", "dx": 16, "offset": -6},
        "layer": [
          {"mark": {"type": "rule", "color": "black", "strokeWidth": 1.5}, "encoding": {"y": {"datum": 0, "type": "quantitative", "scale": {"domain": [-12, 20], "nice": false, "zero": false, "reverse": true}}}},
          {"data": {"name": "B_P4"}, "mark": {"type": "line", "interpolate": "monotone", "color": "black", "strokeWidth": 2.6},
           "encoding": {
            "x": {"field": "ms", "type": "quantitative", "scale": {"domain": [-100, 350], "nice": false, "zero": false}, "axis": {"orient": "bottom", "offset": -224.4, "domain": false, "ticks": true, "tickSize": 10, "tickWidth": 1.5, "tickColor": "black", "labels": false, "grid": false, "title": null, "tickCount": 20, "values": [-100,-50,0,50,100,150,200,250,300,350]}},
            "y": {"field": "uV", "type": "quantitative", "scale": {"domain": [-12, 20], "nice": false, "zero": false, "reverse": true}, "axis": {"orient": "left", "offset": -90.7, "domain": true, "domainColor": "black", "domainWidth": 1.5, "ticks": true, "tickSize": 5, "tickWidth": 1.2, "tickColor": "black", "grid": false, "title": null, "tickCount": 40, "values": [-12,-11,-10,-9,-8,-7,-6,-5,-4,-3,-2,-1,0,1,2,3,4,5,6,7,8,9,10,11,12,13,14,15,16,17,18,19,20], "labels": false}},
            "strokeDash": {"field": "cond", "type": "nominal", "scale": {"domain": ["Heteronymous", "Homonymous"], "range": [[1, 0], [10, 4]]}, "legend": null}
           }}
        ]
      }
      ]
    }
    ]
  },
  {
    "width": 1286, "height": 92,
    "data": {"name": "caption"},
    "encoding": {
      "x": {"field": "col", "type": "nominal", "scale": {"type": "band", "domain": ["left", "right"], "paddingInner": 0, "paddingOuter": 0}, "axis": null, "bandPosition": 0},
      "y": {"field": "line", "type": "ordinal", "scale": {"type": "band", "paddingInner": 0, "paddingOuter": 0}, "axis": null},
      "text": {"field": "text"}
    },
    "layer": [
      {"transform": [{"filter": "datum.seg == 'regular'"}], "mark": {"type": "text", "align": "left", "baseline": "middle", "font": "Liberation Sans", "fontSize": 19, "color": "#444", "dx": 3}},
      {"transform": [{"filter": "datum.seg == 'bold'"}], "mark": {"type": "text", "align": "left", "baseline": "middle", "font": "Liberation Sans", "fontSize": 17.5, "fontWeight": "bold", "color": "#222", "dx": 3}},
      {"transform": [{"filter": "datum.seg == 'L2tail'"}], "mark": {"type": "text", "align": "left", "baseline": "middle", "font": "Liberation Sans", "fontSize": 19, "color": "#444", "dx": 438}},
      {"transform": [{"filter": "datum.seg == 'L4italic'"}], "mark": {"type": "text", "align": "left", "baseline": "middle", "font": "Liberation Sans", "fontSize": 19, "fontStyle": "italic", "color": "#444", "dx": 238.5}},
      {"transform": [{"filter": "datum.seg == 'L4tail'"}], "mark": {"type": "text", "align": "left", "baseline": "middle", "font": "Liberation Sans", "fontSize": 19, "color": "#444", "dx": 322}},
      {"transform": [{"filter": "datum.seg == 'R1italic'"}], "mark": {"type": "text", "align": "left", "baseline": "middle", "font": "Liberation Sans", "fontSize": 19, "fontStyle": "italic", "color": "#444", "dx": 113}},
      {"transform": [{"filter": "datum.seg == 'R1tail'"}], "mark": {"type": "text", "align": "left", "baseline": "middle", "font": "Liberation Sans", "fontSize": 19, "color": "#444", "dx": 220}}
    ]
  }
  ]
}
]
}
